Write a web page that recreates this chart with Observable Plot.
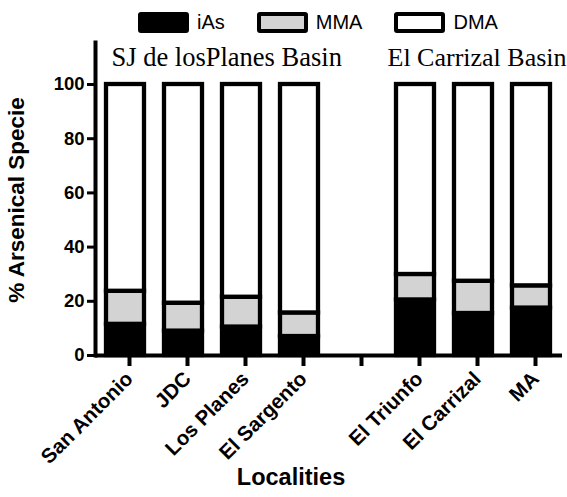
<!DOCTYPE html>
<html><head><meta charset="utf-8">
<script src="https://cdn.jsdelivr.net/npm/d3@7"></script>
<script src="https://cdn.jsdelivr.net/npm/@observablehq/plot@0.6"></script>
<style>
body{margin:0;background:#fff;}
#wrap{position:relative;width:567px;height:497px;font-family:"Liberation Sans",Arial,sans-serif;}
#legend{position:absolute;left:138px;top:12px;display:flex;align-items:center;}
.item{display:flex;align-items:center;margin-right:32px;font-size:20px;line-height:21px;color:#000;}
.sw{box-sizing:border-box;width:51px;height:21px;border:4px solid #000;border-radius:3px;margin-right:8px;}
</style></head>
<body><div id="wrap"><div id="legend"></div></div>
<script>
// categories on the x axis (the empty one is the gap between the two basins)
const localities = ["San Antonio", "JDC", "Los Planes", "El Sargento", "", "El Triunfo", "El Carrizal", "MA"];
const sites = ["San Antonio", "JDC", "Los Planes", "El Sargento", "El Triunfo", "El Carrizal", "MA"];
// % of each arsenical species
const iAs = [11.5, 9.0, 10.5, 7.0, 20.5, 15.5, 17.5];
const MMA = [12.2, 10.3, 11.0, 8.7, 9.4, 11.9, 8.2];
const DMA = [76.3, 80.7, 78.5, 84.3, 70.1, 72.6, 74.3];
const species = ["iAs", "MMA", "DMA"];
const speciesColors = ["#000000", "#d3d3d3", "#ffffff"];
const yTicks = [0, 20, 40, 60, 80, 100];
const basinLabels = ["SJ de losPlanes Basin", "El Carrizal Basin"];
const basinFirstSite = ["San Antonio", "El Triunfo"];

const seriesBySpecies = {iAs, MMA, DMA};
const rows = [];
species.forEach(sp => sites.forEach((s, i) => rows.push({site: s, species: sp, value: seriesBySpecies[sp][i]})));

const serif = "'Liberation Serif', 'Times New Roman', serif";
const sans = "'Liberation Sans', Arial, sans-serif";

const chart = Plot.plot({
  width: 567,
  height: 497,
  marginTop: 42,
  marginBottom: 142,
  marginLeft: 95,
  marginRight: 5,
  style: {fontFamily: sans, background: "#fff", color: "#000", overflow: "visible"},
  x: {domain: localities, paddingInner: 0.34, paddingOuter: 0.17, align: 0.5},
  y: {domain: [0, 115.5]},
  color: {domain: species, range: speciesColors},
  marks: [
    Plot.barY(rows, {x: "site", y: "value", fill: "species", stroke: "#000", strokeWidth: 4.3}),
    Plot.ruleY([0], {strokeWidth: 4}),
    Plot.frame({anchor: "left", strokeWidth: 4}),
    Plot.axisY({ticks: yTicks, tickSize: 8, tickPadding: 3, fontSize: 18.5, fontWeight: "bold", strokeWidth: 3, label: null}),
    Plot.axisX({tickSize: 11, tickRotate: -45, tickPadding: 9, dx: 4, fontSize: 20.5, fontWeight: "bold", strokeWidth: 4, label: null}),
    Plot.text([basinLabels[0]], {x: [basinFirstSite[0]], frameAnchor: "top", textAnchor: "start", lineAnchor: "top", dx: -14, dy: 5, fontSize: 26.5, fontFamily: serif}),
    Plot.text([basinLabels[1]], {x: [basinFirstSite[1]], frameAnchor: "top", textAnchor: "start", lineAnchor: "top", dx: -28, dy: 5, fontSize: 26, fontFamily: serif}),
    Plot.text(["% Arsenical Specie"], {frameAnchor: "left", textAnchor: "middle", rotate: -90, dx: -79, dy: 1, fontSize: 22.5, fontWeight: "bold"}),
    Plot.text(["Localities"], {frameAnchor: "bottom", dx: -38, dy: 129, fontSize: 23.5, fontWeight: "bold"})
  ]
});
document.getElementById("wrap").appendChild(chart);
chart.style.position = "absolute";
chart.style.left = "0";
chart.style.top = "0";

const legend = document.getElementById("legend");
species.forEach((sp, i) => {
  const item = document.createElement("div");
  item.className = "item";
  const sw = document.createElement("span");
  sw.className = "sw";
  sw.style.background = speciesColors[i];
  const t = document.createElement("span");
  t.textContent = sp;
  item.appendChild(sw);
  item.appendChild(t);
  legend.appendChild(item);
});
document.getElementById("wrap").appendChild(legend);
</script>
</body></html>
